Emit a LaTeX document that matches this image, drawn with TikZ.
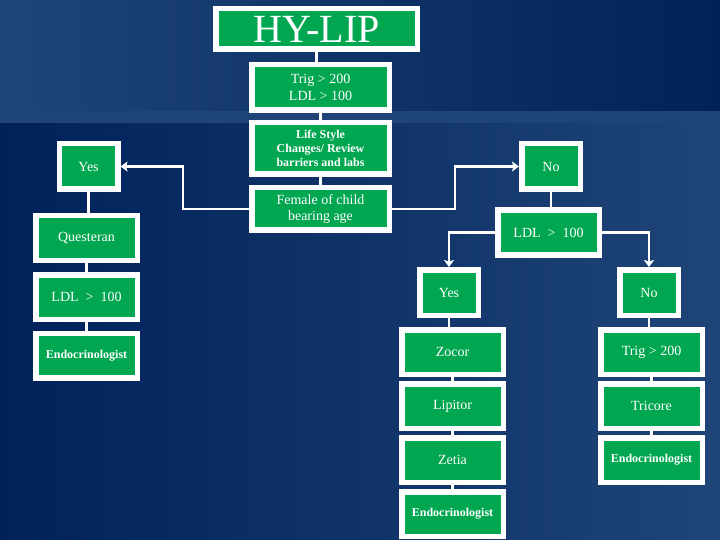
\documentclass[tikz,border=0pt]{standalone}
\usepackage{fontspec}
\setmainfont{Liberation Serif}
\usetikzlibrary{arrows.meta}
\definecolor{boxgreen}{RGB}{0,166,80}
\definecolor{bglight}{RGB}{31,69,120}
\definecolor{bgdark}{RGB}{0,33,90}
\begin{document}
\begin{tikzpicture}[
    x=1pt, y=-1pt,
    box/.style={rectangle, draw=white, line width=5.5pt, fill=boxgreen, text=white, inner sep=0pt, align=center, font=\fontsize{14}{16.5}\selectfont},
    sq/.style={box, minimum width=58.5pt, minimum height=45.5pt},
    wd/.style={box, minimum width=101.5pt, minimum height=44.5pt},
    cl/.style={box, minimum width=137.5pt},
    small/.style={font=\fontsize{12}{14.3}\selectfont\bfseries},
    link/.style={draw=white, line width=2.8pt},
    arrow/.style={link, -{Stealth[length=7pt, width=10pt, inset=1.5pt]}}
]
    \useasboundingbox (0,0) rectangle (720,540);
    \shade[left color=bglight, right color=bgdark] (0,0) rectangle (720,111);
    \fill[bglight] (0,111) rectangle (720,124);
    \shade[left color=bgdark, middle color=bgdark!80!bglight, right color=bglight] (0,124) rectangle (720,540);

    \node[box, minimum width=201.5pt, minimum height=40.5pt, font=\fontsize{40}{44}\selectfont] (hylip) at (316.5, 29) {HY-LIP};
    \node[cl, minimum height=45.5pt] (crit)   at (320.5, 87.5)  {Trig > 200\\LDL > 100};
    \node[cl, minimum height=51.5pt, small] (life) at (320.5, 148.5) {Life Style\\Changes/ Review\\barriers and labs};
    \node[cl, minimum height=42.5pt] (female) at (320.5, 209)   {Female of child\\bearing age};

    \node[sq] (yesL)  at (88.5, 166.5) {Yes};
    \node[wd] (quest) at (86.5, 238)   {Questeran};
    \node[wd] (ldlL)  at (86.5, 297)   {LDL~~>~~100};
    \node[wd, small] (endoL) at (86.5, 355.5) {Endocrinologist};

    \node[sq] (noR)  at (551, 166.5)   {No};
    \node[wd] (ldlR) at (548.5, 232.5) {LDL~~>~~100};

    \node[sq] (yesM)    at (449, 292.5)   {Yes};
    \node[wd] (zocor)   at (452.5, 352)   {Zocor};
    \node[wd] (lipitor) at (452.5, 406)   {Lipitor};
    \node[wd] (zetia)   at (452.5, 460)   {Zetia};
    \node[wd, small] (endoM) at (452.5, 514) {Endocrinologist};

    \node[sq] (noM)     at (649, 292.5)   {No};
    \node[wd] (trig)    at (651.5, 352)   {Trig > 200};
    \node[wd] (tricore) at (651.5, 406)   {Tricore};
    \node[wd, small] (endoR) at (651.5, 460) {Endocrinologist};

    \foreach \a/\b in {hylip/crit, crit/life, life/female, yesL/quest, quest/ldlL, ldlL/endoL, noR/ldlR,
                       yesM/zocor, zocor/lipitor, lipitor/zetia, zetia/endoM, noM/trig, trig/tricore, tricore/endoR}
        \draw[link] (\a.south) -- (\a.south |- \b.north);

    \draw[arrow] (female.west) -- ++(-66,0) |- (yesL.east);
    \draw[arrow] (female.east) -- ++(63,0) |- (noR.west);
    \draw[arrow] (ldlR.west) -| (yesM.north);
    \draw[arrow] (ldlR.east) -| (noM.north);
\end{tikzpicture}
\end{document}
